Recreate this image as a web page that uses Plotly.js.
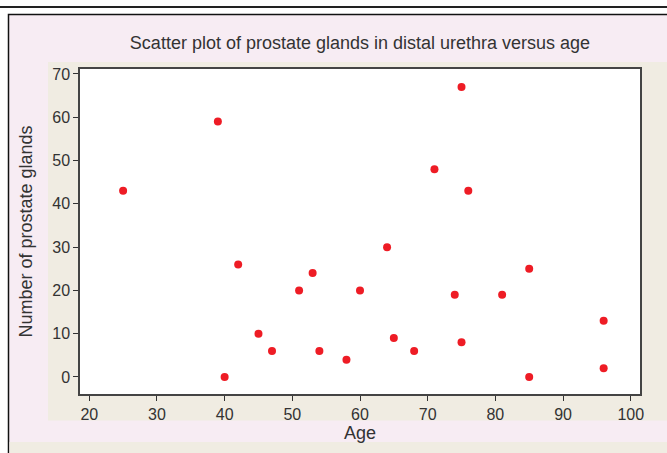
<!DOCTYPE html>
<html>
<head>
<meta charset="utf-8">
<script src="https://cdn.plot.ly/plotly-3.0.1.min.js"></script>
<style>
html,body{margin:0;padding:0;background:#fff;}
#chart{width:667px;height:453px;}
</style>
</head>
<body>
<div id="chart"></div>
<script>
// Data
const age = [25, 39, 40, 42, 45, 47, 51, 53, 54, 58, 60, 64, 65, 68, 71, 74, 75, 75, 76, 81, 85, 85, 96, 96];
const glands = [43, 59, 0, 26, 10, 6, 20, 24, 6, 4, 20, 30, 9, 6, 48, 19, 67, 8, 43, 19, 25, 0, 13, 2];
const xTicks = [20, 30, 40, 50, 60, 70, 80, 90, 100];
const yTicks = [0, 10, 20, 30, 40, 50, 60, 70];

const FONT = '"Liberation Sans Narrow", "Liberation Sans", Arial, sans-serif';

// pixel -> paper helpers (plot area: x 80..640, y 69..394)
const W = 667, H = 453, L = 80, R = 27, T = 69, B = 59;
const pw = W - L - R, ph = H - T - B;
const px = v => (v - L) / pw;
const py = v => (H - B - v) / ph;

const data = [{
  type: 'scatter',
  mode: 'markers',
  x: age,
  y: glands,
  marker: {color: '#ee1c25', size: 8},
  hoverinfo: 'x+y'
}];

const layout = {
  width: W, height: H,
  margin: {l: L, r: R, t: T, b: B},
  paper_bgcolor: 'rgba(0,0,0,0)',
  plot_bgcolor: '#ffffff',
  showlegend: false,
  font: {family: FONT, color: '#333'},
  title: {
    text: 'Scatter plot of prostate glands in distal urethra versus age',
    font: {family: FONT, size: 18, color: '#333'},
    x: 0.5, xanchor: 'center', xref: 'paper',
    y: 1 - 43 / H, yanchor: 'middle'
  },
  xaxis: {
    range: [18.63, 101.37],
    tickvals: xTicks,
    ticktext: xTicks.map(String),
    ticks: 'outside', ticklen: 5, tickwidth: 1.2, tickcolor: '#333',
    tickfont: {family: FONT, size: 16, color: '#333'},
    showgrid: false, zeroline: false,
    showline: true, mirror: true, linecolor: '#444', linewidth: 1.5,
    title: {text: 'Age', font: {family: FONT, size: 18, color: '#333'}, standoff: 4}
  },
  yaxis: {
    range: [-3.93, 71.15],
    tickvals: yTicks,
    ticktext: yTicks.map(String),
    ticks: 'outside', ticklen: 5, tickwidth: 1.2, tickcolor: '#333',
    tickfont: {family: FONT, size: 16, color: '#333'},
    showgrid: false, zeroline: false,
    showline: true, mirror: true, linecolor: '#444', linewidth: 1.5,
    title: {text: 'Number of prostate glands', font: {family: FONT, size: 18, color: '#333'}, standoff: 15}
  },
  shapes: [
    // top rule
    {type: 'line', xref: 'paper', yref: 'paper', x0: px(0), x1: px(W), y0: py(7), y1: py(7),
     line: {color: '#222', width: 2}, layer: 'below'},
    // pink frame
    {type: 'rect', xref: 'paper', yref: 'paper', x0: px(8.5), x1: px(W + 5), y0: py(H + 5), y1: py(14.5),
     fillcolor: '#f7ecf3', line: {color: '#111', width: 1.5}, layer: 'below'},
    // beige plot region
    {type: 'rect', xref: 'paper', yref: 'paper', x0: px(48), x1: px(W + 5), y0: py(420.5), y1: py(62),
     fillcolor: '#f0ece2', line: {width: 0}, layer: 'below'},
    // bottom beige strip
    {type: 'rect', xref: 'paper', yref: 'paper', x0: px(9.5), x1: px(W + 5), y0: py(H + 5), y1: py(442),
     fillcolor: '#f0ece2', line: {width: 0}, layer: 'below'},
    // white plotting area
    {type: 'rect', xref: 'paper', yref: 'paper', x0: 0, x1: 1, y0: 0, y1: 1,
     fillcolor: '#ffffff', line: {width: 0}, layer: 'below'}
  ]
};

Plotly.newPlot('chart', data, layout, {displayModeBar: false});
</script>
</body>
</html>
